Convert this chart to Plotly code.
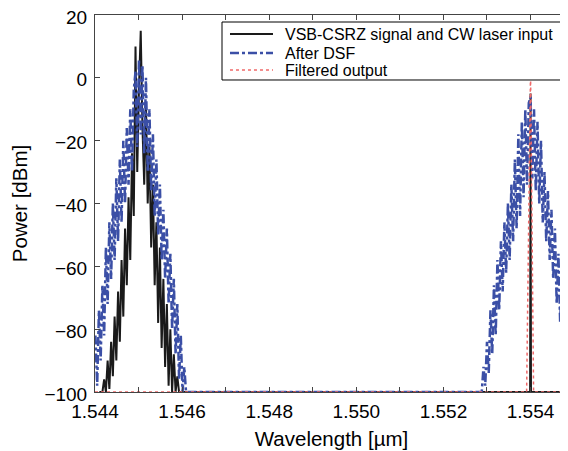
import plotly.graph_objects as go

# ---------------- data ----------------
STEP = 0.00004  # sampling step of the spectra [µm]

# VSB-CSRZ signal + CW laser input (black)
black_left_start = 1.54417
black_left = [-100, -96, -100, -90, -99, -84, -95, -76, -90, -68, -84, -58,
              -76, -48, -66, -38, -58, -24, -44, 10, -30, -3, 15, -16, -34,
              -8, -40, -22, -54, -34, -66, -46, -78, -54, -86, -64, -92,
              -72, -98, -80, -100, -88, -100, -95, -100, -100]
black_flat_x = [1.5441, 1.54601, 1.55399]
black_flat_y = [-100, -100, -100]
cw_x = [1.55399, 1.55400, 1.55401, 1.5549]
cw_y = [-100, -5, -100, -100]

# After DSF (blue)
blue_left_start = 1.54401
blue_left = [-82, -98, -74, -90, -66, -82, -54, -72, -46, -64, -40, -58,
             -32, -52, -26, -46, -20, -40, -16, -34, -10, -30, -4, 2, -22,
             6, -18, 4, -24, 0, -30, -10, -36, -18, -44, -26, -50, -34,
             -58, -42, -64, -48, -72, -56, -80, -64, -88, -72, -96, -82,
             -100, -92, -100, -100, -100, -100]
blue_flat_x = [1.54621, 1.55288]
blue_flat_y = [-100, -100]
blue_right_start = 1.55288
blue_right = [-100, -92, -98, -84, -94, -74, -88, -66, -82, -58, -74, -52,
              -68, -46, -62, -40, -58, -34, -52, -26, -48, -18, -44, -14,
              -38, -10, -34, -8, -6, -32, -10, -36, -14, -40, -20, -46,
              -30, -52, -36, -58, -42, -64, -48, -72, -56, -78, -62, -86,
              -70, -94, -78, -98]

# Filtered output (red)
red_x = [1.544, 1.55391, 1.55400, 1.55407, 1.5549]
red_y = [-100, -100, 2, -100, -100]

series_names = ["VSB-CSRZ signal and CW laser input", "After DSF", "Filtered output"]

x_range = [1.544, 1.55486]
y_range = [-100, 20]
x_tick_vals = [1.544, 1.545, 1.546, 1.547, 1.548, 1.549, 1.550, 1.551,
               1.552, 1.553, 1.554]
x_tick_text = ["1.544", "", "1.546", "", "1.548", "", "1.550", "",
               "1.552", "", "1.554"]
y_tick_vals = [-100, -80, -60, -40, -20, 0, 20]
y_tick_text = ["\u2212100", "\u221280", "\u221260", "\u221240", "\u221220", "0", "20"]

# ---------------- build ----------------
def grid(start, values):
    return [start + i * STEP for i in range(len(values))]

BLACK = "#1a1a1a"
BLUE = "#3b4fa6"
RED = "#f06a6a"
styles = [dict(color=BLACK, width=2),
          dict(color=BLUE, width=2.5, dash="dashdot"),
          dict(color=RED, width=1.5, dash="dot")]

fig = go.Figure()

bx = black_flat_x[:1] + grid(black_left_start, black_left) + black_flat_x[1:] + cw_x
by = black_flat_y[:1] + black_left + black_flat_y[1:] + cw_y
blx = grid(blue_left_start, blue_left) + blue_flat_x + grid(blue_right_start, blue_right)[1:]
bly = blue_left + blue_flat_y + blue_right[1:]

for (xs, ys), name, st in zip([(bx, by), (blx, bly), (red_x, red_y)], series_names, styles):
    fig.add_trace(go.Scatter(x=xs, y=ys, mode="lines", line=st, name=name,
                             showlegend=False))

FONT = "Liberation Sans, Arial, Helvetica, sans-serif"

# ---- legend box drawn in paper coordinates (compact MATLAB-style legend)
LEG_X0, LEG_X1, LEG_Y0, LEG_Y1 = 0.2685, 0.9979, 0.8276, 0.9814
LEG_ROWS = [0.9496, 0.8992, 0.8541]
SAMPLE_X0, SAMPLE_X1, TEXT_X = 0.2854, 0.3763, 0.3975

shapes = [dict(type="rect", xref="paper", yref="paper", x0=LEG_X0, x1=LEG_X1,
               y0=LEG_Y0, y1=LEG_Y1, line=dict(color="black", width=1),
               fillcolor="white", layer="above")]
annotations = []
for yrow, name, st in zip(LEG_ROWS, series_names, styles):
    shapes.append(dict(type="line", xref="paper", yref="paper", x0=SAMPLE_X0,
                       x1=SAMPLE_X1, y0=yrow, y1=yrow, line=st, layer="above"))
    annotations.append(dict(text=name, xref="paper", yref="paper", x=TEXT_X, y=yrow,
                            xanchor="left", yanchor="middle", showarrow=False,
                            font=dict(size=16, family=FONT, color="black")))

# The page body has an 8 px margin, so the figure is 8 px smaller on each side
fig.update_layout(
    width=560, height=443,
    margin=dict(l=87, r=0, t=7, b=59, autoexpand=False),
    paper_bgcolor="white", plot_bgcolor="white",
    font=dict(family=FONT, color="black", size=18),
    showlegend=False,
    shapes=shapes, annotations=annotations,
)
fig.update_xaxes(
    range=x_range, tickmode="array", tickvals=x_tick_vals, ticktext=x_tick_text,
    ticks="inside", ticklen=5, tickcolor="#444", showline=True, linecolor="#444",
    linewidth=1, mirror="ticks", showgrid=False, zeroline=False, automargin=False,
    tickfont=dict(size=19, family=FONT), ticklabelstandoff=2,
    ticklabeloverflow="allow",
    title=dict(text="Wavelength [\u00b5m]", font=dict(size=20.5, family=FONT), standoff=10),
)
fig.update_yaxes(
    range=y_range, tickmode="array", tickvals=y_tick_vals, ticktext=y_tick_text,
    ticks="inside", ticklen=5, tickcolor="#444", showline=True, linecolor="#444",
    linewidth=1, mirror=False, showgrid=False, zeroline=False, automargin=False,
    tickfont=dict(size=19, family=FONT), ticklabelstandoff=3, ticklabelshift=2,
    ticklabeloverflow="allow",
    title=dict(text="Power [dBm]", font=dict(size=20.5, family=FONT), standoff=16),
)

fig.write_html("out.html")
